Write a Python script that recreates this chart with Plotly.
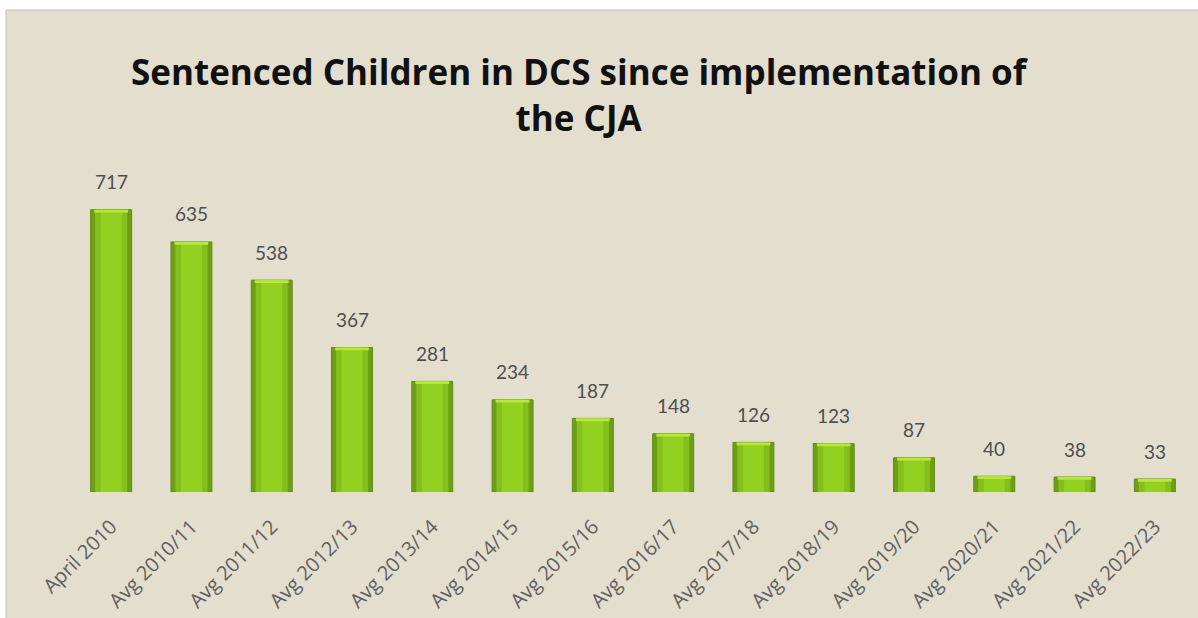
import plotly.graph_objects as go

categories = ["April 2010", "Avg 2010/11", "Avg 2011/12", "Avg 2012/13", "Avg 2013/14",
              "Avg 2014/15", "Avg 2015/16", "Avg 2016/17", "Avg 2017/18", "Avg 2018/19",
              "Avg 2019/20", "Avg 2020/21", "Avg 2021/22", "Avg 2022/23"]
values = [717, 635, 538, 367, 281, 234, 187, 148, 126, 123, 87, 40, 38, 33]

title_text = "Sentenced Children in DCS since implementation of<br>the CJA"

BG = "#E4DECF"
W, H = 1198, 618
ML, MR, MT, MB = 71, 3, 177, 126
CAP = 7  # height (in data units) of the lighter top cap

fig = go.Figure()
fig.add_trace(go.Bar(
    x=categories, y=values, width=0.51,
    marker=dict(color="#6E9E16", line=dict(color="#5F8C12", width=1)),
    hoverinfo="skip", showlegend=False,
))
fig.add_trace(go.Bar(
    x=categories, y=values, width=0.40,
    marker=dict(color="#84BF1C", line=dict(width=0)),
    hoverinfo="skip", showlegend=False,
))
fig.add_trace(go.Bar(
    x=categories, y=values, width=0.26,
    marker=dict(color="#92D021", line=dict(width=0)),
    hoverinfo="skip", showlegend=False,
))
fig.add_trace(go.Bar(
    x=categories, y=[CAP] * len(values), base=[v - CAP for v in values], width=0.42,
    marker=dict(color="#B9E83C", line=dict(width=0)),
    hoverinfo="skip", showlegend=False,
))

for c, v in zip(categories, values):
    fig.add_annotation(x=c, y=v, text=str(v), showarrow=False, yshift=28,
                       xanchor="center", yanchor="middle",
                       font=dict(family="Lato, Open Sans, sans-serif", size=19, color="#4E4E4E"))

pw = W - ML - MR
ph = H - MT - MB

fig.add_annotation(text=title_text, xref="paper", yref="paper",
                   x=(580 - ML) / pw, y=1 + (MT - 94) / ph,
                   xanchor="center", yanchor="middle", showarrow=False, align="center",
                   font=dict(family="Open Sans, sans-serif", size=35, color="#111111", weight="bold"))

fig.add_shape(type="rect", xref="paper", yref="paper",
              x0=-ML / pw - 0.01, x1=(W - ML) / pw + 0.01, y0=1 + (MT - 10) / ph, y1=1 + MT / ph + 0.01,
              fillcolor="white", line=dict(width=0), layer="below")
fig.add_shape(type="line", xref="paper", yref="paper",
              x0=(6 - ML) / pw, x1=(W - ML) / pw + 0.01, y0=1 + (MT - 10) / ph, y1=1 + (MT - 10) / ph,
              line=dict(color="#BDBDBD", width=1))
fig.add_shape(type="rect", xref="paper", yref="paper",
              x0=-ML / pw - 0.01, x1=(6 - ML) / pw, y0=-MB / ph - 0.01, y1=1 + MT / ph + 0.01,
              fillcolor="white", line=dict(width=0), layer="below")
fig.add_shape(type="line", xref="paper", yref="paper",
              x0=(6 - ML) / pw, x1=(6 - ML) / pw, y0=-MB / ph - 0.01, y1=1 + (MT - 10) / ph,
              line=dict(color="#BDBDBD", width=1))

fig.update_layout(
    width=W, height=H,
    margin=dict(l=ML, r=MR, t=MT, b=MB, pad=0, autoexpand=False),
    paper_bgcolor=BG, plot_bgcolor=BG,
    barmode="overlay",
    xaxis=dict(tickangle=-45, showgrid=False, showline=False, zeroline=False, ticks="",
               automargin=False, ticklabelstandoff=18, ticklabelshift=0,
               tickfont=dict(family="Open Sans, sans-serif", size=20, color="#616161")),
    yaxis=dict(range=[0, 800], visible=False, showgrid=False, zeroline=False, automargin=False),
)

fig.write_html("out.html")
